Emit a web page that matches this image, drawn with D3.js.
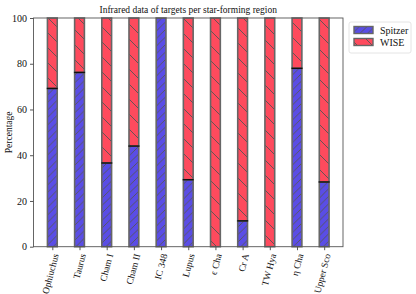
<!DOCTYPE html>
<html>
<head>
<script src="https://d3js.org/d3.v7.min.js"></script>
<style>
  body { margin: 0; background: #fff; }
  text { font-family: "Liberation Serif", "DejaVu Serif", serif; fill: #111; }
</style>
</head>
<body>
<div id="chart"></div>
<script>
// regions and percentage of targets with Spitzer data (rest is WISE)
var regions = ["Ophiuchus", "Taurus", "Cham I", "Cham II", "IC 348", "Lupus",
  "\u03f5 Cha", "Cr A", "TW Hya", "\u03b7 Cha", "Upper Sco"];
var spitzer = [69.2, 76.2, 36.6, 44.0, 100, 29.3, 0, 11.3, 0, 78.0, 28.3];
var wise = [30.8, 23.8, 63.4, 56.0, 0, 70.7, 100, 88.7, 100, 22.0, 71.7];
var yTicks = [0, 20, 40, 60, 80, 100];

var W = 416, H = 294;
var margin = {top: 18, right: 73, bottom: 47.3, left: 33.5};

var svg = d3.select("#chart").append("svg")
  .attr("width", W).attr("height", H);

var defs = svg.append("defs");
// "//" hatch for Spitzer
var p1 = defs.append("pattern").attr("id", "hatchS")
  .attr("patternUnits", "userSpaceOnUse").attr("width", 7.5).attr("height", 7.5);
p1.append("rect").attr("width", 7.5).attr("height", 7.5).attr("fill", "#5a4de6");
p1.append("path").attr("d", "M-1,8.5 L8.5,-1 M-1,1 L1,-1 M6.5,8.5 L8.5,6.5")
  .attr("stroke", "#555").attr("stroke-width", 0.9);
// "\" hatch for WISE
var p2 = defs.append("pattern").attr("id", "hatchW")
  .attr("patternUnits", "userSpaceOnUse").attr("width", 15).attr("height", 15);
p2.append("rect").attr("width", 15).attr("height", 15).attr("fill", "#fe4a5d");
p2.append("path").attr("d", "M-1,-1 L16,16")
  .attr("stroke", "#555").attr("stroke-width", 0.9);

var x = d3.scaleLinear()
  .domain([-0.6925, regions.length - 1 + 0.6925])
  .range([margin.left, W - margin.right]);
var y = d3.scaleLinear()
  .domain([0, 100])
  .range([H - margin.bottom, margin.top]);
var barW = x(0.36) - x(0);

var g = svg.append("g");

// bars
var bars = g.selectAll(".bar").data(regions).enter().append("g");
bars.append("rect")
  .attr("x", function(d, i) { return x(i) - barW / 2; })
  .attr("y", function(d, i) { return y(spitzer[i]); })
  .attr("width", barW)
  .attr("height", function(d, i) { return y(0) - y(spitzer[i]); })
  .attr("fill", "url(#hatchS)")
  .attr("stroke", "#666").attr("stroke-width", 1.6);
bars.append("rect")
  .attr("x", function(d, i) { return x(i) - barW / 2; })
  .attr("y", function(d, i) { return y(spitzer[i] + wise[i]); })
  .attr("width", barW)
  .attr("height", function(d, i) { return y(spitzer[i]) - y(spitzer[i] + wise[i]); })
  .attr("fill", "url(#hatchW)")
  .attr("stroke", "#666").attr("stroke-width", 1.6);
// black boundary line between the two segments
bars.filter(function(d, i) { return spitzer[i] > 0 && wise[i] > 0; })
  .append("line")
  .attr("x1", function(d) { return x(regions.indexOf(d)) - barW / 2 - 0.5; })
  .attr("x2", function(d) { return x(regions.indexOf(d)) + barW / 2 + 0.5; })
  .attr("y1", function(d) { return y(spitzer[regions.indexOf(d)]); })
  .attr("y2", function(d) { return y(spitzer[regions.indexOf(d)]); })
  .attr("stroke", "#111").attr("stroke-width", 1.4);

// axes frame
svg.append("rect")
  .attr("x", margin.left).attr("y", margin.top)
  .attr("width", W - margin.right - margin.left)
  .attr("height", H - margin.bottom - margin.top)
  .attr("fill", "none").attr("stroke", "#555").attr("stroke-width", 0.9);

// y axis
var yAxis = svg.append("g")
  .attr("transform", "translate(" + margin.left + ",0)")
  .call(d3.axisLeft(y).tickValues(yTicks).tickSize(3.5).tickPadding(3));
yAxis.select(".domain").remove();
yAxis.selectAll("line").attr("stroke", "#555");
yAxis.selectAll("text").style("font-size", "10px")
  .style("font-family", "Liberation Serif, serif").attr("fill", "#111");

// x axis
var xAxis = svg.append("g")
  .attr("transform", "translate(0," + (H - margin.bottom) + ")")
  .call(d3.axisBottom(x).tickValues(d3.range(regions.length)).tickSize(3.5)
    .tickFormat(function(i) { return regions[i]; }));
xAxis.select(".domain").remove();
xAxis.selectAll("line").attr("stroke", "#555");
xAxis.selectAll("text")
  .style("font-size", "9.5px")
  .style("font-family", "Liberation Serif, serif")
  .attr("fill", "#111")
  .attr("text-anchor", "end")
  .attr("y", 0).attr("dy", 0)
  .attr("transform", "translate(6,8) rotate(-75)");

// y label
svg.append("text")
  .attr("transform", "translate(12," + ((margin.top + H - margin.bottom) / 2) + ") rotate(-90)")
  .attr("text-anchor", "middle")
  .style("font-size", "9.5px")
  .text("Percentage");

// title
svg.append("text")
  .attr("x", (margin.left + W - margin.right) / 2)
  .attr("y", 13)
  .attr("text-anchor", "middle")
  .style("font-size", "9.5px")
  .text("Infrared data of targets per star-forming region");

// legend
var leg = svg.append("g").attr("transform", "translate(349,22)");
leg.append("rect").attr("width", 62).attr("height", 31)
  .attr("fill", "#fff").attr("stroke", "#ddd").attr("stroke-width", 0.8).attr("rx", 2);
var items = [{name: "Spitzer", fill: "url(#hatchS)"}, {name: "WISE", fill: "url(#hatchW)"}];
items.forEach(function(it, k) {
  leg.append("rect").attr("x", 5).attr("y", 4.5 + k * 12).attr("width", 19).attr("height", 7)
    .attr("fill", it.fill).attr("stroke", "#666").attr("stroke-width", 1.4);
  leg.append("text").attr("x", 31).attr("y", 11.5 + k * 12)
    .style("font-size", "10px").text(it.name);
});
</script>
</body>
</html>
